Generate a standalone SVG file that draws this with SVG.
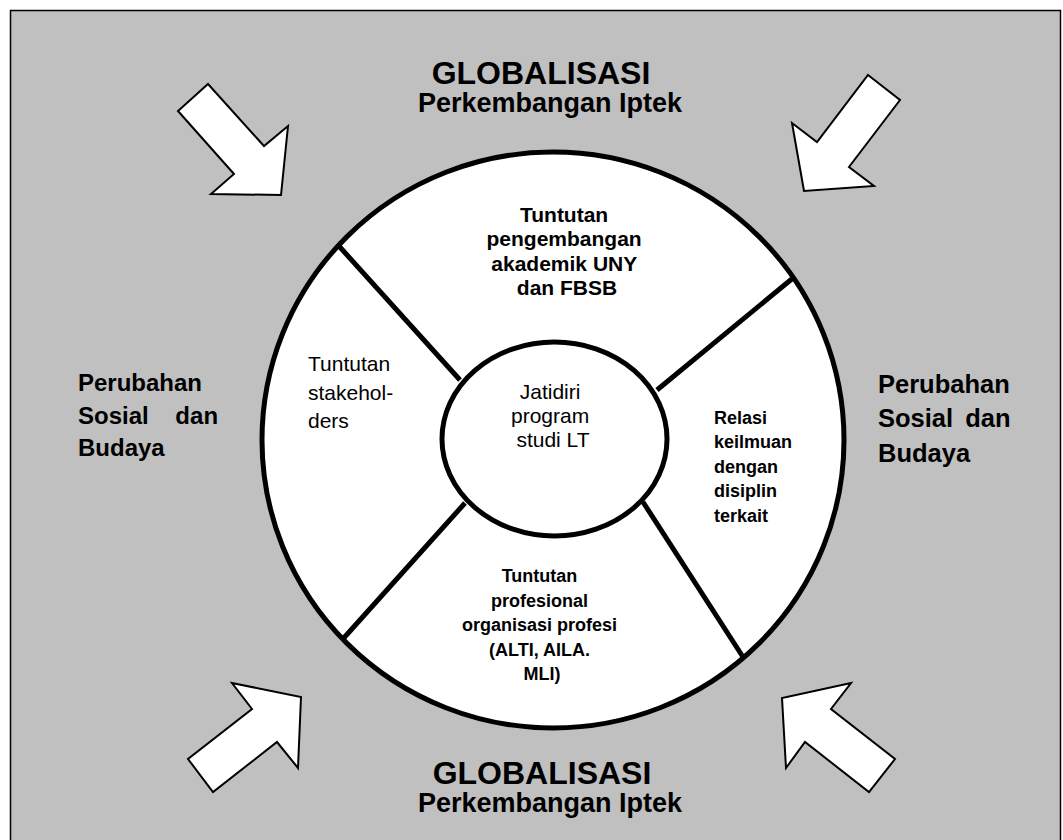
<svg xmlns="http://www.w3.org/2000/svg" width="1063" height="840" viewBox="0 0 1063 840">
  <style>
    .b { font-family: "Liberation Sans", Arial, sans-serif; font-weight: bold; fill: #000; }
    .r { font-family: "Liberation Sans", Arial, sans-serif; font-weight: normal; fill: #000; }
    .arrow { fill: #fff; stroke: #000; stroke-width: 2; stroke-linejoin: miter; }
    .div { stroke: #000; stroke-width: 5; fill: none; }
    .ring { fill: #fff; stroke: #000; stroke-width: 5; }
  </style>
  <rect x="0" y="0" width="1063" height="840" fill="#fff"/>
  <rect id="frame" x="10.5" y="10.5" width="1050" height="840" fill="#c0c0c0" stroke="#000" stroke-width="1.5"/>

  <g id="outer-circle">
    <ellipse class="ring" cx="553" cy="440" rx="291" ry="288"/>
  </g>

  <g id="dividers">
    <line class="div" x1="338" y1="245" x2="460" y2="380"/>
    <line class="div" x1="793" y1="278" x2="657" y2="390"/>
    <line class="div" x1="743" y1="657" x2="643" y2="502"/>
    <line class="div" x1="342" y1="640" x2="465" y2="503"/>
  </g>

  <g id="core">
    <ellipse class="ring" cx="554.5" cy="439" rx="112.5" ry="97"/>
    <text class="r" font-size="21" text-anchor="middle">
      <tspan x="553" y="399">Jatidiri</tspan>
      <tspan x="553" y="423">program</tspan>
      <tspan x="553" y="447">studi LT</tspan>
    </text>
  </g>

  <g id="seg-akademik">
    <text class="b" font-size="21" text-anchor="middle">
      <tspan x="567" y="221.5">Tuntutan</tspan>
      <tspan x="567" y="246">pengembangan</tspan>
      <tspan x="567" y="270.5">akademik UNY</tspan>
      <tspan x="567" y="295">dan FBSB</tspan>
    </text>
  </g>

  <g id="seg-stakeholders">
    <text class="r" font-size="21">
      <tspan x="308" y="371">Tuntutan</tspan>
      <tspan x="308" y="399.5">stakehol-</tspan>
      <tspan x="308" y="428">ders</tspan>
    </text>
  </g>

  <g id="seg-relasi">
    <text class="b" font-size="18">
      <tspan x="714" y="423.5">Relasi</tspan>
      <tspan x="714" y="448">keilmuan</tspan>
      <tspan x="714" y="472.5">dengan</tspan>
      <tspan x="714" y="497">disiplin</tspan>
      <tspan x="714" y="521.5">terkait</tspan>
    </text>
  </g>

  <g id="seg-profesional">
    <text class="b" font-size="18" text-anchor="middle">
      <tspan x="542" y="582">Tuntutan</tspan>
      <tspan x="542" y="606.5">profesional</tspan>
      <tspan x="542" y="631">organisasi profesi</tspan>
      <tspan x="542" y="655.5">(ALTI, AILA.</tspan>
      <tspan x="542" y="680">MLI)</tspan>
    </text>
  </g>

  <g id="top-label">
    <text class="b" font-size="32" text-anchor="middle" x="541" y="84">GLOBALISASI</text>
    <text class="b" font-size="27" text-anchor="middle" x="550" y="112">Perkembangan Iptek</text>
  </g>

  <g id="bottom-label">
    <text class="b" font-size="32" text-anchor="middle" x="542" y="784">GLOBALISASI</text>
    <text class="b" font-size="27" text-anchor="middle" x="550" y="812">Perkembangan Iptek</text>
  </g>

  <g id="left-label">
    <text class="b" font-size="24">
      <tspan x="78" y="391">Perubahan</tspan>
      <tspan x="78" y="424" word-spacing="20">Sosial dan</tspan>
      <tspan x="78" y="456">Budaya</tspan>
    </text>
  </g>

  <g id="right-label">
    <text class="b" font-size="25.5">
      <tspan x="878" y="393">Perubahan</tspan>
      <tspan x="878" y="427" word-spacing="5">Sosial dan</tspan>
      <tspan x="878" y="462">Budaya</tspan>
    </text>
  </g>

  <g id="connectors">
    <polygon class="arrow" points="208,84 264,146 288,126 281,195 211,194 234,174 178,111"/>
    <polygon class="arrow" points="868,75 900,100 849,167 874,186 804,191 792,123 817,142"/>
    <polygon class="arrow" points="232,683 301,697 298,768 277,742 213,792 188,759 252,709"/>
    <polygon class="arrow" points="851,683 782,698 786,768 805,742 869,792 895,759 831,709"/>
  </g>
</svg>
